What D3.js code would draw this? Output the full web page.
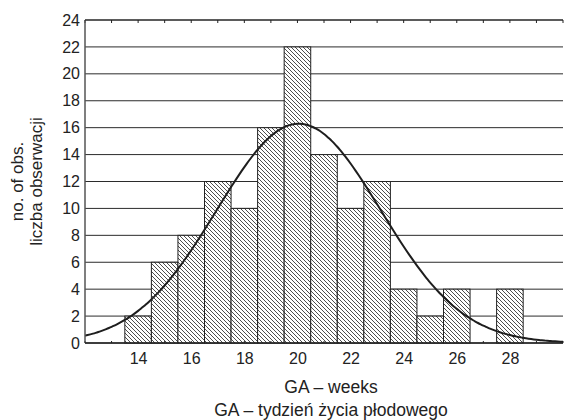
<!DOCTYPE html>
<html>
<head>
<meta charset="utf-8">
<script src="https://cdn.jsdelivr.net/npm/d3@7"></script>
<style>
  html, body { margin: 0; padding: 0; background: #fff; }
  svg { display: block; font-family: "Liberation Sans", Arial, sans-serif; }
</style>
</head>
<body>
<svg id="chart" width="564" height="420"></svg>
<script>
// Gestational age (weeks) and number of observations in each week
const weeks  = [14, 15, 16, 17, 18, 19, 20, 21, 22, 23, 24, 25, 26, 27, 28];
const counts = [2, 6, 8, 12, 10, 16, 22, 14, 10, 12, 4, 2, 4, 0, 4];
const xTickLabels = [14, 16, 18, 20, 22, 24, 26, 28];
const yTickLabels = [0, 2, 4, 6, 8, 10, 12, 14, 16, 18, 20, 22, 24];
const xTitle = ["GA – weeks", "GA – tydzień życia płodowego"];
const yTitle = ["no. of obs.", "liczba obserwacji"];

const svg = d3.select("#chart");
const margin = { left: 85, right: 1, top: 20, bottom: 77 };
const W = 564, H = 420;

const x = d3.scaleLinear().domain([12, 30]).range([margin.left, W - margin.right]);
const y = d3.scaleLinear().domain([0, 24]).range([H - margin.bottom, margin.top]);

// diagonal hatch fill for the bars
const defs = svg.append("defs");
defs.append("pattern")
  .attr("id", "hatch")
  .attr("patternUnits", "userSpaceOnUse")
  .attr("width", 4).attr("height", 4)
  .call(p => {
    p.append("rect").attr("width", 4).attr("height", 4).attr("fill", "#fff");
    p.append("path")
      .attr("d", "M-1,3 l2,2 M0,0 l4,4 M3,-1 l2,2")
      .attr("stroke", "#3a3a3a").attr("stroke-width", 0.9);
  });
defs.append("clipPath").attr("id", "plotClip")
  .append("rect")
  .attr("x", x(12)).attr("y", y(24))
  .attr("width", x(30) - x(12)).attr("height", y(0) - y(24));

// horizontal grid lines
svg.append("g")
  .selectAll("line")
  .data(yTickLabels)
  .join("line")
  .attr("x1", x(12)).attr("x2", x(30))
  .attr("y1", d => y(d)).attr("y2", d => y(d))
  .attr("stroke", "#2b2b2b").attr("stroke-width", 1);

// histogram bars (one week wide, centred on the week)
svg.append("g")
  .selectAll("rect")
  .data(weeks.map((w, i) => ({ w, c: counts[i] })).filter(d => d.c > 0))
  .join("rect")
  .attr("x", d => x(d.w - 0.5))
  .attr("width", d => x(d.w + 0.5) - x(d.w - 0.5))
  .attr("y", d => y(d.c))
  .attr("height", d => y(0) - y(d.c))
  .attr("fill", "url(#hatch)")
  .attr("stroke", "#222").attr("stroke-width", 1);

// inner minor ticks along bottom and top edges
const minor = d3.range(12, 31, 1);
svg.append("g").selectAll("line").data(minor).join("line")
  .attr("x1", d => x(d)).attr("x2", d => x(d))
  .attr("y1", y(24)).attr("y2", y(24) + 3)
  .attr("stroke", "#222");
svg.append("g").selectAll("line").data(minor).join("line")
  .attr("x1", d => x(d)).attr("x2", d => x(d))
  .attr("y1", y(0)).attr("y2", y(0) - 2)
  .attr("stroke", "#222");

// fitted normal curve, scaled to counts (mean and SD from the histogram)
const n = d3.sum(counts);
const mean = d3.sum(weeks, (w, i) => w * counts[i]) / n;
const sd = Math.sqrt(d3.sum(weeks, (w, i) => counts[i] * (w - mean) ** 2) / (n - 1));
const density = v => n / (sd * Math.sqrt(2 * Math.PI)) * Math.exp(-((v - mean) ** 2) / (2 * sd * sd));
const curveX = d3.range(12, 30.001, 0.1);
svg.append("path")
  .datum(curveX)
  .attr("clip-path", "url(#plotClip)")
  .attr("d", d3.line().x(d => x(d)).y(d => y(density(d))).curve(d3.curveBasis))
  .attr("fill", "none").attr("stroke", "#1e1e1e").attr("stroke-width", 2);

// axis lines
svg.append("line")
  .attr("x1", x(12)).attr("x2", x(12)).attr("y1", y(0)).attr("y2", y(24))
  .attr("stroke", "#555").attr("stroke-width", 1.5);
svg.append("line")
  .attr("x1", x(12)).attr("x2", x(30)).attr("y1", y(0)).attr("y2", y(0))
  .attr("stroke", "#222").attr("stroke-width", 1.5);
svg.append("line")
  .attr("x1", x(12)).attr("x2", x(30)).attr("y1", y(24)).attr("y2", y(24))
  .attr("stroke", "#222").attr("stroke-width", 1.2);

// y tick labels
const yAxis = d3.axisLeft(y).tickValues(yTickLabels).tickSize(0).tickPadding(5);
svg.append("g")
  .attr("transform", `translate(${x(12)},0)`)
  .call(yAxis)
  .call(g => g.select(".domain").remove())
  .selectAll("text")
  .attr("font-size", 16).attr("fill", "#222")
  .attr("font-family", "'Liberation Sans', Arial, sans-serif");

// x tick labels
const xAxis = d3.axisBottom(x).tickValues(xTickLabels).tickSize(0).tickPadding(10);
svg.append("g")
  .attr("transform", `translate(0,${y(0)})`)
  .call(xAxis)
  .call(g => g.select(".domain").remove())
  .selectAll("text")
  .attr("font-size", 16).attr("fill", "#222")
  .attr("font-family", "'Liberation Sans', Arial, sans-serif");

// axis titles
svg.append("g").selectAll("text").data(xTitle).join("text")
  .attr("x", 331)
  .attr("y", (d, i) => 393 + i * 23)
  .attr("text-anchor", "middle")
  .attr("font-size", 17.5).attr("fill", "#222")
  .text(d => d);

const midY = (y(0) + y(24)) / 2;
svg.append("g").selectAll("text").data(yTitle).join("text")
  .attr("transform", (d, i) => `translate(${23 + i * 19},${midY}) rotate(-90)`)
  .attr("text-anchor", "middle")
  .attr("font-size", 17).attr("fill", "#222")
  .text(d => d);
</script>
</body>
</html>
